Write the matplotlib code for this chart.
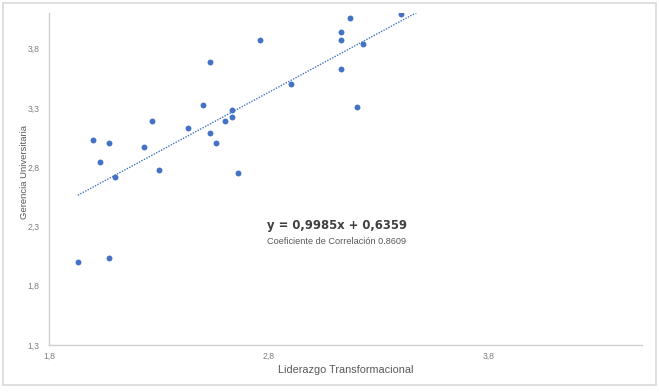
import numpy as np
import matplotlib
matplotlib.use("Agg")
import matplotlib.pyplot as plt
from matplotlib.patches import Rectangle

# Liderazgo Transformacional (x) vs Gerencia Universitaria (y)
liderazgo = [1.93, 2.07, 2.00, 2.07, 2.03, 2.10, 2.23, 2.27, 2.30, 2.43,
             2.50, 2.53, 2.53, 2.56, 2.60, 2.63, 2.63, 2.66, 2.76, 2.90,
             3.13, 3.13, 3.13, 3.17, 3.20, 3.23, 3.40]
gerencia = [2.00, 2.03, 3.03, 3.00, 2.84, 2.72, 2.97, 3.19, 2.78, 3.13,
            3.32, 3.69, 3.09, 3.00, 3.19, 3.28, 3.22, 2.75, 3.87, 3.50,
            3.94, 3.87, 3.63, 4.06, 3.31, 3.84, 4.09]

slope = 0.9985
intercept = 0.6359
correlacion = 0.8609
trend_end = 3.5

x_ticks = [1.8, 2.8, 3.8]
y_ticks = [1.3, 1.8, 2.3, 2.8, 3.3, 3.8]

plt.rcParams['font.family'] = ['Liberation Sans', 'DejaVu Sans']

W, H = 659, 392
fig = plt.figure(figsize=(W / 100, H / 100), dpi=100)
fig.patch.set_facecolor("white")
fig.patches.append(Rectangle((3 / W, 1 - 385 / H), 653 / W, 382 / H,
                             transform=fig.transFigure, fill=False,
                             edgecolor="#D9D9D9", linewidth=1.2))

ax = fig.add_axes([49.3 / W, 1 - 345 / H, (642 - 49.3) / W, (345 - 13) / H])

ax.scatter(liderazgo, gerencia, s=18, color="#4472C4", zorder=3, linewidths=0)

tx = np.array([min(liderazgo), trend_end])
ax.plot(tx, slope * tx + intercept, linestyle=(0, (1, 1)), color="#4472C4",
        linewidth=1.0, zorder=2)

ax.set_xlim(1.8, 4.5)
ax.set_ylim(1.3, 4.1)
ax.set_xticks(x_ticks)
ax.set_yticks(y_ticks)
ax.set_xticklabels([f"{v:.1f}".replace(".", ",") for v in x_ticks])
ax.set_yticklabels([f"{v:.1f}".replace(".", ",") for v in y_ticks])
ax.tick_params(axis="y", length=0, labelsize=6.2, colors="#7F7F7F", pad=7)
ax.tick_params(axis="x", length=0, labelsize=6.2, colors="#7F7F7F", pad=5)

for side in ["top", "right"]:
    ax.spines[side].set_visible(False)
for side in ["left", "bottom"]:
    ax.spines[side].set_color("#D0D0D0")
    ax.spines[side].set_linewidth(1.0)

ax.set_xlabel("Liderazgo Transformacional", fontsize=7.8, color="#595959", labelpad=3)
ax.set_ylabel("Gerencia Universitaria", fontsize=6.8, color="#595959")
ax.yaxis.set_label_coords(-0.034, 0.52)

eq = f"y = {slope:.4f}x + {intercept:.4f}".replace(".", ",")
fig.text(267 / W, 1 - 225 / H, eq, fontsize=8.4, fontweight="bold",
         family="DejaVu Sans", color="#404040", va="center", ha="left")
fig.text(267 / W, 1 - 241.5 / H, f"Coeficiente de Correlación {correlacion}",
         fontsize=6.6, color="#595959", va="center", ha="left")

fig.savefig("out.png", dpi=100)
